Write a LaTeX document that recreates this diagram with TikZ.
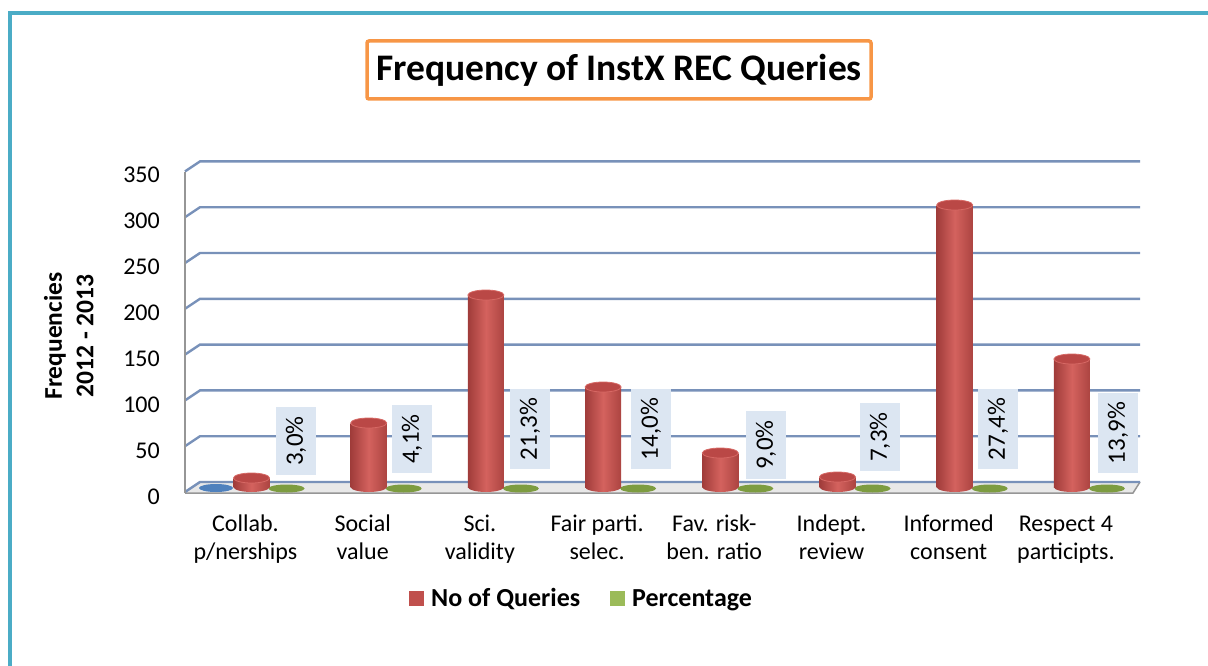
\documentclass[tikz,border=0pt]{standalone}
\usepackage{fontspec}
\setmainfont{Carlito}
\definecolor{framecol}{RGB}{75,172,198}
\definecolor{titlecol}{RGB}{247,150,70}
\definecolor{gridcol}{RGB}{120,145,185}
\definecolor{axiscol}{RGB}{150,150,150}
\definecolor{floorcol}{RGB}{232,232,232}
\definecolor{redL}{RGB}{160,60,58}
\definecolor{redM}{RGB}{212,98,94}
\definecolor{redR}{RGB}{172,68,65}
\definecolor{redTop}{RGB}{186,72,70}
\definecolor{redRim}{RGB}{214,104,100}
\definecolor{legred}{RGB}{192,80,77}
\definecolor{leggreen}{RGB}{155,187,89}
\definecolor{greenD}{RGB}{120,150,60}
\definecolor{blueD}{RGB}{79,129,189}
\definecolor{pctbox}{RGB}{220,230,242}
\begin{document}
\begin{tikzpicture}[x=1pt,y=-1pt,
  gridline/.style={draw=gridcol, line width=2.4pt},
  ticklab/.style={anchor=east, inner sep=0pt, font=\fontsize{24}{28}\selectfont},
  catlab/.style={align=center, inner sep=0pt, font=\fontsize{24}{28}\selectfont},
  pct/.style={rotate=90, fill=pctbox, inner xsep=9pt, inner ysep=0pt, minimum height=40pt, font=\fontsize{25}{29}\selectfont},
  legsq/.style={minimum size=15pt, inner sep=0pt},
  legtxt/.style={anchor=base west, inner sep=0pt, font=\fontsize{26}{30}\selectfont\bfseries}
]
\useasboundingbox (0,0) rectangle (1208,666);
\clip (0,0) rectangle (1208,666);
% outer frame
\draw[framecol, line width=4pt] (10,700) -- (10,13) -- (1230,13);
% title
\node[draw=titlecol, line width=3.5pt, rounded corners=2pt, minimum width=504pt, minimum height=58pt, inner sep=0pt, font=\fontsize{37.5}{42}\selectfont\bfseries] (title) at (619,70) {Frequency of InstX REC Queries};
% floor
\fill[floorcol] (185,493) -- (200,482) -- (1140,482) -- (1133,493) -- cycle;
\draw[axiscol, line width=1.5pt] (185,493) -- (1133,493) -- (1140,482);
% gridlines
\foreach \k in {0,...,7}{
  \pgfmathsetmacro{\yb}{482-45.8*\k}
  \draw[gridline] (185,\yb+10) -- (200,\yb) -- (1140,\yb);
}
% vertical axis
\draw[axiscol, line width=2pt] (185,172) -- (185,493);
% tick labels
\foreach \v [count=\i from 0] in {0,50,100,150,200,250,300,350}{
  \node[ticklab] (t\i) at (160,497-46*\i) {\v};
}
% axis title
\node[rotate=90, inner sep=0pt, font=\fontsize{25.5}{30}\selectfont\bfseries] (ytitle1) at (55,336) {Frequencies};
\node[rotate=90, inner sep=0pt, font=\fontsize{25.5}{30}\selectfont\bfseries] (ytitle2) at (85,336) {2012 - 2013};
% blue disc
\fill[blueD] (216,488) ellipse[x radius=17, y radius=4];
% cylinders and discs
\foreach \c/\t in {251.5/478, 368.7/423, 485.9/295, 603.1/387, 720.3/453, 837.5/477, 954.7/205, 1071.9/359}{
  \fill[greenD!85!leggreen] (\c+35,488.5) ellipse[x radius=18, y radius=4];
  \shade[left color=redL, right color=redR, middle color=redM] (\c-18,\t) rectangle (\c+18,487);
  \shade[left color=redL, right color=redR, middle color=redM] (\c,487) ellipse[x radius=18, y radius=5];
  \filldraw[fill=redTop, draw=redRim, line width=0.8pt] (\c,\t) ellipse[x radius=18, y radius=5];
}
% percentage labels
\node[pct] (p1) at (296,441) {3,0\%};
\node[pct] (p2) at (412,439) {4,1\%};
\node[pct] (p3) at (530,429) {21,3\%};
\node[pct] (p4) at (651,429) {14,0\%};
\node[pct] (p5) at (766,445) {9,0\%};
\node[pct] (p6) at (880,437) {7,3\%};
\node[pct] (p7) at (998,429) {27,4\%};
\node[pct] (p8) at (1118,433) {13,9\%};
% category labels
\node[catlab] (c1) at (245.5,540) {\strut Collab.\\\strut p/nerships};
\node[catlab] (c2) at (362.7,540) {\strut Social\\\strut value};
\node[catlab] (c3) at (479.9,540) {\strut Sci.\\\strut validity};
\node[catlab] (c4) at (597.1,540) {\strut Fair parti.\\\strut selec.};
\node[catlab] (c5) at (714.3,540) {\strut Fav. risk-\\\strut ben. ratio};
\node[catlab] (c6) at (831.5,540) {\strut Indept.\\\strut review};
\node[catlab] (c7) at (948.7,540) {\strut Informed\\\strut consent};
\node[catlab] (c8) at (1065.9,540) {\strut Respect 4\\\strut participts.};
% legend
\node[legsq, fill=legred] (l1) at (416.5,598.5) {};
\node[legtxt] (l1t) at (431,606.5) {No of Queries};
\node[legsq, fill=leggreen] (l2) at (617,598.5) {};
\node[legtxt] (l2t) at (632,606.5) {Percentage};
\end{tikzpicture}
\end{document}
